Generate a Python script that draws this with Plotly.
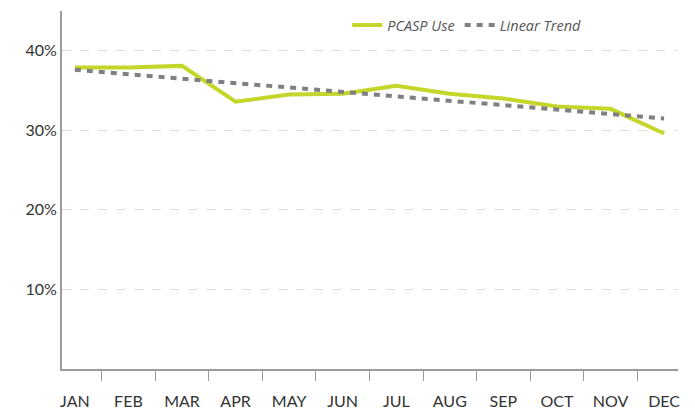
import plotly.graph_objects as go

months = ["JAN", "FEB", "MAR", "APR", "MAY", "JUN", "JUL", "AUG", "SEP", "OCT", "NOV", "DEC"]
pcasp_use = [37.9, 37.9, 38.1, 33.6, 34.5, 34.6, 35.6, 34.6, 34.0, 33.0, 32.7, 29.6]
trend_months = ["JAN", "DEC"]
trend_values = [37.6, 31.5]
y_ticks = [10, 20, 30, 40]
y_tick_labels = ["10%", "20%", "30%", "40%"]

fig = go.Figure()
fig.add_trace(go.Scatter(
    x=months, y=pcasp_use, mode="lines", name="PCASP Use",
    line=dict(color="#c5d62a", width=4),
))
fig.add_trace(go.Scatter(
    x=trend_months, y=trend_values, mode="lines", name="Linear Trend",
    line=dict(color="#7f7f84", width=4, dash="6px,6px"),
))

# page body has an 8px default margin, so the figure is sized to fit inside it
fig.update_layout(
    width=687, height=401,
    margin=dict(l=54, r=17, t=2, b=40),
    paper_bgcolor="white", plot_bgcolor="white",
    font=dict(family="Lato, Open Sans, sans-serif", color="#333333"),
    showlegend=True,
    legend=dict(
        orientation="h", x=0.463, y=0.958, xanchor="left", yanchor="middle",
        font=dict(family="Open Sans", size=14.5, color="#555555", style="italic"),
        bgcolor="rgba(0,0,0,0)", itemwidth=30, tracegroupgap=0,
    ),
    xaxis=dict(
        type="category", categoryorder="array", categoryarray=months,
        range=[-0.24, 11.26], automargin=False,
        showline=True, linecolor="#9a9a9a", linewidth=2,
        ticks="outside", tickson="boundaries", ticklen=10, tickcolor="#9a9a9a", tickwidth=1,
        ticklabelstandoff=17,
        showgrid=False, zeroline=False,
        tickfont=dict(family="Lato", size=16, color="#333333"),
    ),
    yaxis=dict(
        range=[0, 45], automargin=False,
        tickvals=y_ticks, ticktext=y_tick_labels,
        showline=True, linecolor="#9a9a9a", linewidth=2,
        showgrid=True, gridcolor="#dcdcdc", griddash="dash", gridwidth=1,
        zeroline=False, ticks="",
        tickfont=dict(family="Lato", size=16, color="#333333"),
    ),
)

fig.write_html("out.html")
